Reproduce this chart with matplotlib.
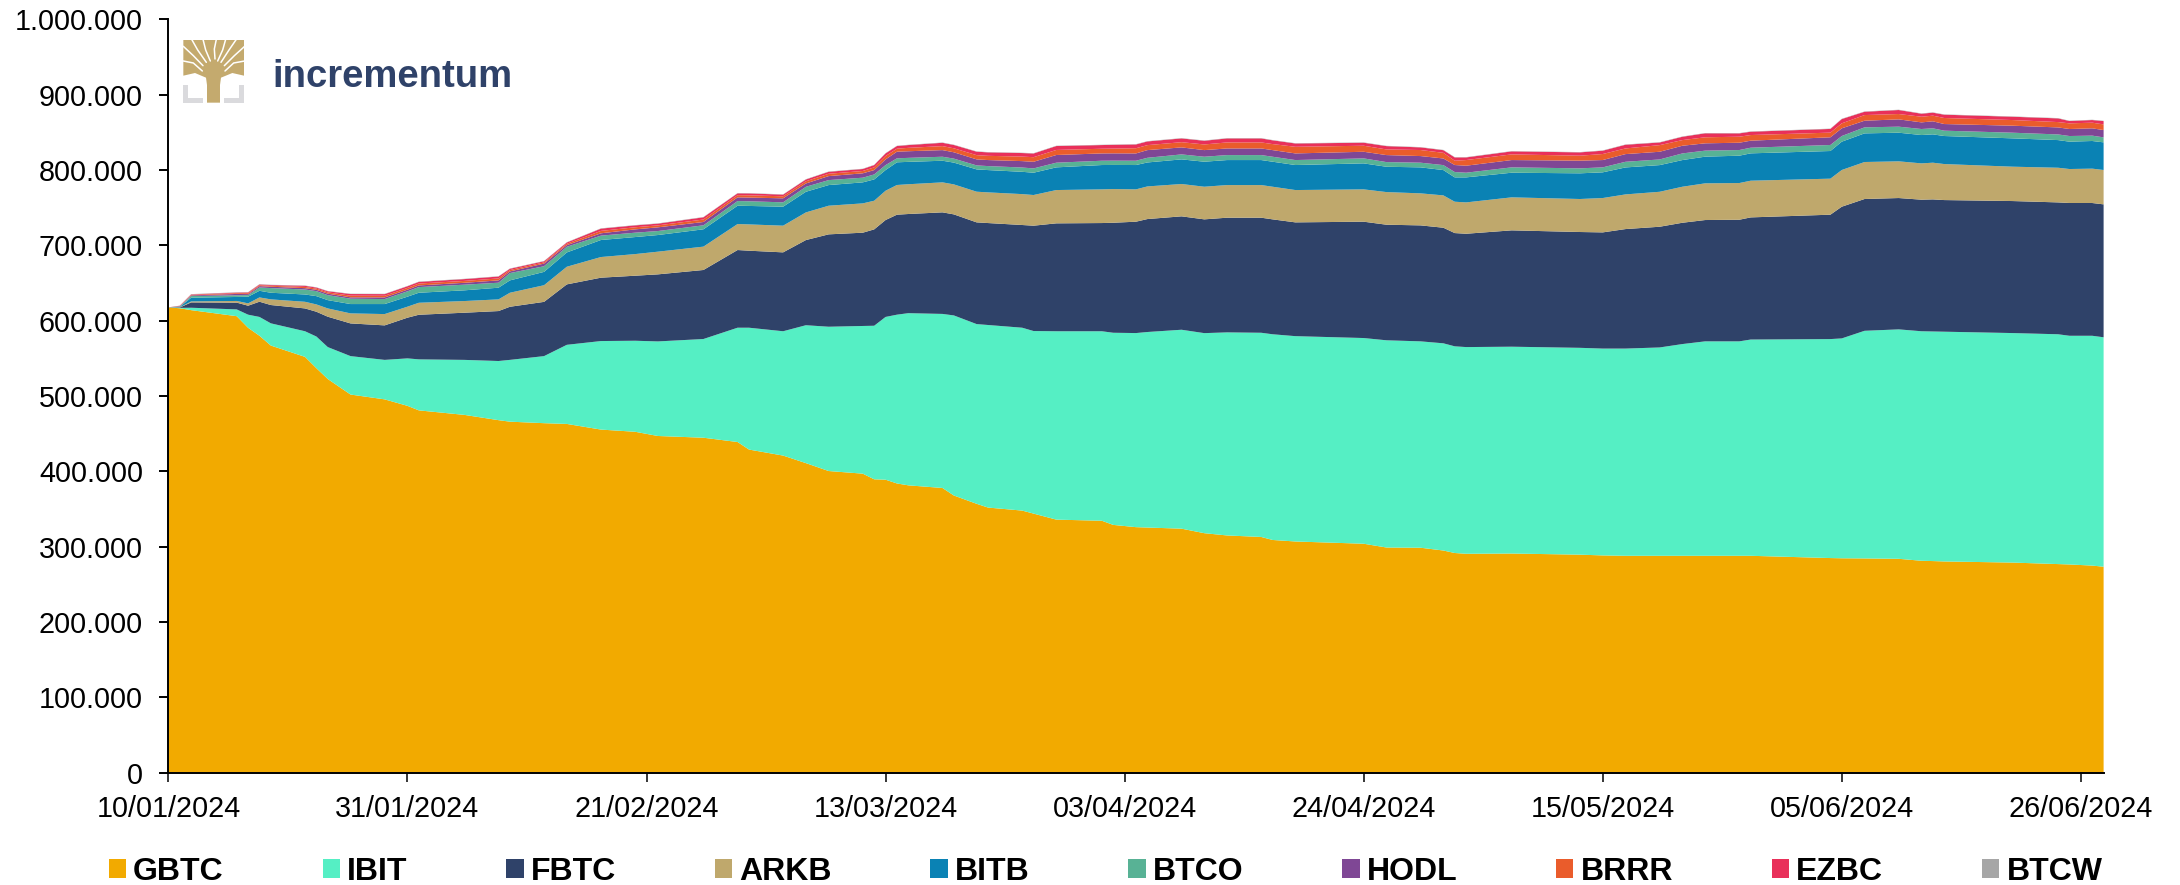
"""Spot bitcoin ETF holdings (BTC), stacked by fund, with the Incrementum logo."""

import numpy as np
import pandas as pd
import matplotlib
matplotlib.use("Agg")
import matplotlib.pyplot as plt
import matplotlib.dates as mdates
from matplotlib.patches import Polygon
from matplotlib.ticker import FuncFormatter

plt.rcParams["font.family"] = ["Liberation Sans", "DejaVu Sans"]

W, H = 2180, 885

START = pd.Timestamp("2024-01-10")

# calendar days since 10/01/2024
days = [0, 1, 2, 6, 7, 8, 9, 12, 13, 14, 16, 19, 21, 22, 26, 29, 30, 33, 35, 38,
        41, 43, 47, 50, 51, 54, 56, 58, 61, 62, 63, 64, 65, 68, 69, 71, 72, 75, 76, 78,
        82, 83, 85, 86, 89, 91, 93, 96, 97, 99, 105, 107, 110, 112, 113, 114, 118, 124, 126, 128,
        131, 133, 135, 138, 139, 146, 147, 149, 152, 154, 155, 156, 162, 166, 167, 169, 170]

# holdings per fund, thousand BTC
gbtc = [617.7, 616.5, 614, 606, 590.6, 580, 567, 552, 537, 522.6, 502, 495.6, 487, 481, 475, 468, 466, 464, 463, 455.5,
        452.6, 447, 444.7, 439, 429, 421, 411, 400.5, 397, 389.5, 389, 384, 381.5, 378, 368, 357, 352, 348, 344, 336,
        334.5, 329, 326, 325.5, 324, 318, 315, 313, 309, 307, 304, 299, 298.7, 295, 291.7, 290.7, 291, 289.5, 288.5, 288,
        288, 288, 288, 288, 288, 285, 284.7, 284.5, 284, 281.4, 281, 280.5, 279, 277, 276.5, 275, 273.5]
ibit = [0, 0.5, 3.2, 9, 17.4, 25, 29.5, 34, 42, 42.4, 51, 52.4, 63, 67.7, 73, 78.5, 82, 89, 105, 117.5,
        120.8, 125.5, 131, 151.7, 161.7, 165, 183, 191.5, 196, 203.8, 216, 224, 228.5, 231, 239, 238.5, 242.3, 242.7, 242.3, 250,
        251.5, 255, 257.6, 259.5, 264, 265.5, 269.5, 271, 273, 272.5, 273, 275, 273.9, 275, 274.3, 274.3, 274.5, 274.5, 274.5, 275,
        276.5, 281, 284.6, 284.6, 287, 290.6, 291.8, 302.1, 304.5, 304.6, 304.7, 304.9, 304.6, 305, 303.5, 305, 304.5]
fbtc = [0, 0.5, 7.1, 9, 11.9, 20.2, 24.3, 30.3, 32.9, 40.3, 43.4, 45.8, 54, 59.2, 62.6, 66.3, 70.5, 72, 80.2, 84.1,
        86.3, 89, 91.6, 103.1, 102.2, 104.7, 113, 122.6, 123.8, 127.9, 128.6, 132.7, 131.6, 134.8, 134.1, 135, 135.3, 136.3, 139.8, 143.2,
        143.6, 146, 147.8, 149.9, 150.5, 151, 152.2, 152.7, 152.5, 151, 154.4, 153.4, 153.9, 153.4, 150.3, 150.4, 154.4, 153.7, 154.2, 158.6,
        160.2, 161, 161, 161.4, 162.1, 165.1, 174.8, 174.9, 174.3, 174.6, 175.3, 174.7, 175.2, 175, 176.2, 176.2, 176.4]
arkb = [0, 0.3, 1.3, 2.2, 3.1, 5.7, 7.5, 8.8, 9.7, 11, 13.3, 15, 14.6, 15.9, 15.5, 15.5, 18.6, 22.1, 23.4, 27.4,
        28.7, 30.1, 31, 34.5, 34.9, 35.4, 36.7, 38, 38.9, 38, 38.9, 39.4, 39.5, 39.8, 39.8, 40.7, 40.7, 41, 40.7, 44.2,
        44.7, 44.7, 42.9, 43.3, 42.9, 43.3, 43.3, 43.3, 43.3, 42.9, 42.9, 43.3, 42.5, 42.9, 41.6, 41.6, 43.8, 43.8, 45.6, 46,
        46.4, 47.8, 48.7, 48.7, 48.7, 47.8, 48.7, 49.1, 48.7, 48.2, 48.7, 47.8, 45.6, 46, 45.1, 45.6, 45.6]
bitb = [0, 0.5, 4.9, 5.3, 8.8, 8.8, 8.8, 9.7, 11, 11, 12.4, 13.3, 13.3, 13.3, 14.2, 15.5, 16.4, 17.7, 19, 22.6,
        22.6, 22.1, 23, 24.3, 24.5, 25.2, 27.4, 27.4, 27.9, 28.3, 27.4, 30.1, 29.7, 28.7, 28.9, 29.6, 29.6, 29.6, 29.6, 30.1,
        32.3, 32, 32.3, 31.8, 32.7, 33.2, 33.2, 33.2, 33.2, 33.2, 34.5, 33.6, 34.5, 33.6, 32.3, 33.2, 32.7, 34.1, 34.1, 35.8,
        35.4, 35.4, 35.4, 36.3, 36.3, 36.7, 37.6, 38, 38, 37.6, 37.6, 37.2, 37.6, 36.7, 36.3, 36.7, 36.7]
btco = [0, 0.5, 2.2, 2.2, 2.2, 4.4, 6.2, 6.6, 6.6, 6.6, 7.1, 6.6, 7.1, 7.5, 7.5, 6.6, 9.7, 7.5, 7.5, 5.8,
        5.8, 5.3, 5.3, 6.2, 6.2, 5.8, 6.6, 6.6, 6.2, 6.6, 6.6, 5.3, 5.3, 5.3, 5.3, 5.3, 5.3, 5.7, 5.7, 6.2,
        5.7, 5.7, 5.7, 6.2, 6.6, 6.6, 6.6, 6.6, 6.6, 6.6, 6.6, 6.2, 6.2, 6.6, 7.1, 6.2, 7.1, 6.6, 6.6, 7.5,
        7.5, 8.8, 8, 7.5, 7.5, 8, 7.5, 8, 8, 8, 8, 7.1, 7.5, 7.5, 7.5, 7.1, 6.6]
hodl = [0, 0.5, 0.9, 1.8, 1.3, 1.8, 1.8, 1.8, 1.8, 2, 1.8, 2.2, 2.2, 2.2, 2.5, 3.1, 2.2, 3.5, 2.2, 3.1,
        4.4, 4.9, 4.4, 4.9, 4.9, 5.3, 4.4, 5.3, 5.8, 5.8, 7.5, 8.8, 8.8, 8.8, 8.4, 8, 8, 8.5, 8.8, 10.2,
        9.7, 9.7, 9.7, 10.2, 9.3, 8.8, 8.8, 8.8, 8.8, 8.8, 8.8, 9.3, 8.8, 8.8, 9.3, 9.3, 9.7, 10.2, 9.7, 10.2,
        10.2, 10.2, 9.7, 9.7, 9.3, 10.2, 10.2, 8.8, 9.7, 8.8, 9.3, 8.8, 9.3, 9.3, 9.3, 9.7, 9.7]
brrr = [0, 0.3, 0.7, 1, 1.2, 1.2, 1.2, 1.6, 1.6, 1.7, 2.2, 2.2, 2.3, 2.5, 2.5, 2.6, 1.8, 1.6, 1.8, 3.2,
        2.8, 2.6, 3.3, 2.9, 3, 2.7, 2.9, 3.1, 3.1, 3.6, 4.5, 4, 4.5, 5.3, 5.3, 5.6, 5.6, 6, 6.1, 6.7,
        6.2, 6.3, 6.9, 6.6, 6.9, 7.5, 8, 8, 8, 8.8, 8, 7.5, 8, 7.5, 5.7, 7.5, 7.5, 6.6, 8, 7.5,
        8.8, 7.5, 8, 8, 7.5, 6.2, 6.6, 7.5, 7.1, 7.5, 7.5, 8, 7.5, 7.1, 7.5, 7.5, 7.5]
ezbc = [0, 0.3, 0.6, 0.8, 1, 1, 1, 1.5, 1.4, 1.5, 2.2, 2.2, 2.2, 2.2, 2.4, 2.5, 1.7, 1.5, 1.7, 3,
        2.5, 2.3, 2.9, 2.4, 2.5, 2.2, 2.4, 2.6, 2.6, 3, 3.5, 3.5, 3.7, 4.4, 4.4, 4.6, 4.6, 4.7, 4.9, 5.2,
        4.9, 5, 5, 4.9, 5, 4.9, 5.3, 5.3, 5, 4.4, 4, 4.4, 3.5, 3.5, 4.4, 3.5, 4, 4.4, 4.4, 4.9,
        3.5, 4.4, 5.3, 4.4, 4.4, 4.9, 5.7, 4.4, 5.3, 4, 4, 4.4, 4.4, 4.9, 3.1, 3.5, 4.4]
btcw = [0, 0.1] + [0.4] * (len(days) - 2)

labels = ["GBTC", "IBIT", "FBTC", "ARKB", "BITB", "BTCO", "HODL", "BRRR", "EZBC", "BTCW"]
colors = ["#F2AA00", "#55EFC4", "#2F4269", "#BFA86C", "#0A82B4",
          "#58B295", "#7F4795", "#EA5C2B", "#E9305A", "#A6A6A6"]

yticks = np.arange(0, 1100000, 100000)
xticks = pd.date_range(START, "2024-06-26", freq="21D")


def dots(v, _pos):
    return f"{int(v):,}".replace(",", ".")


def px_axes(fig, x0, y0, x1, y1):
    """Axes placed in figure pixels, y measured from the top."""
    return fig.add_axes([x0 / W, 1 - y1 / H, (x1 - x0) / W, (y1 - y0) / H])


def draw_logo(fig):
    # logo coordinates are the 3x crop of the 80x75 region around it
    ax = px_axes(fig, 175, 35, 255, 110)
    ax.set_xlim(0, 240)
    ax.set_ylim(225, 0)
    ax.axis("off")
    tan = "#C4AA6E"
    grey = "#DADADD"
    for pts in ([(25, 150), (40, 150), (40, 190), (85, 190), (85, 203), (25, 203)],
                [(207, 150), (192, 150), (192, 190), (147, 190), (147, 203), (207, 203)]):
        ax.add_patch(Polygon(pts, fc=grey, ec="none"))
    ax.add_patch(Polygon([(25, 15), (207, 15), (207, 122), (172, 114), (138, 128), (135, 150),
                          (135, 203), (96, 203), (96, 150), (93, 128), (60, 114), (25, 122)],
                         fc=tan, ec="none"))
    slits = [[(25, 34), (55, 62), (84, 92)],
             [(25, 78), (55, 84), (82, 108)],
             [(50, 13), (68, 45), (94, 82)],
             [(84, 13), (92, 45), (106, 78)],
             [(124, 13), (118, 42), (120, 72)],
             [(152, 13), (143, 45), (128, 78)],
             [(184, 13), (162, 45), (138, 82)],
             [(209, 34), (178, 62), (148, 92)],
             [(209, 78), (176, 84), (150, 108)]]
    for s in slits:
        xs, ys = zip(*s)
        ax.plot(xs, ys, color="white", lw=1.1, solid_capstyle="round")
    fig.text(272 / W, 1 - 86.7 / H, "incrementum", color="#2F4269", fontsize=27.5,
             fontweight="bold", ha="left", va="baseline")


def main():
    dates = START + pd.to_timedelta(days, unit="D")
    series = [gbtc, ibit, fbtc, arkb, bitb, btco, hodl, brrr, ezbc, btcw]
    values = [np.asarray(s) * 1000 for s in series]

    fig = plt.figure(figsize=(W / 100, H / 100), dpi=100, facecolor="white")
    ax = px_axes(fig, 168.4, 19.3, 2103.6, 772.8)

    polys = ax.stackplot(dates, values, colors=colors, labels=labels, lw=0)

    ax.set_xlim(START, START + pd.Timedelta(days=170))
    ax.set_ylim(0, 1000000)
    ax.set_yticks(yticks)
    ax.set_xticks(xticks)
    ax.yaxis.set_major_formatter(FuncFormatter(dots))
    ax.xaxis.set_major_formatter(mdates.DateFormatter("%d/%m/%Y"))

    ax.tick_params(axis="y", labelsize=20.7, length=6.8, width=1.4, pad=11.5, color="black")
    ax.tick_params(axis="x", labelsize=20.7, length=6.8, width=1.1, pad=9, color="black")
    for s in ("top", "right"):
        ax.spines[s].set_visible(False)
    for s in ("left", "bottom"):
        ax.spines[s].set_linewidth(1.4)
        ax.spines[s].set_color("black")

    fs = 23
    fpx = fs * 100 / 72
    ax.legend(polys, labels, loc="center left", ncol=10, frameon=False,
              bbox_to_anchor=(108.7 / W, 1 - 872 / H), bbox_transform=fig.transFigure,
              borderaxespad=0, borderpad=0, prop={"size": fs, "weight": "bold"},
              handlelength=17.5 / fpx, handleheight=16.3 / fpx,
              handletextpad=7 / fpx, columnspacing=98.7 / fpx)

    draw_logo(fig)
    fig.savefig("out.png", dpi=100, facecolor="white")
    plt.close(fig)


if __name__ == "__main__":
    main()
